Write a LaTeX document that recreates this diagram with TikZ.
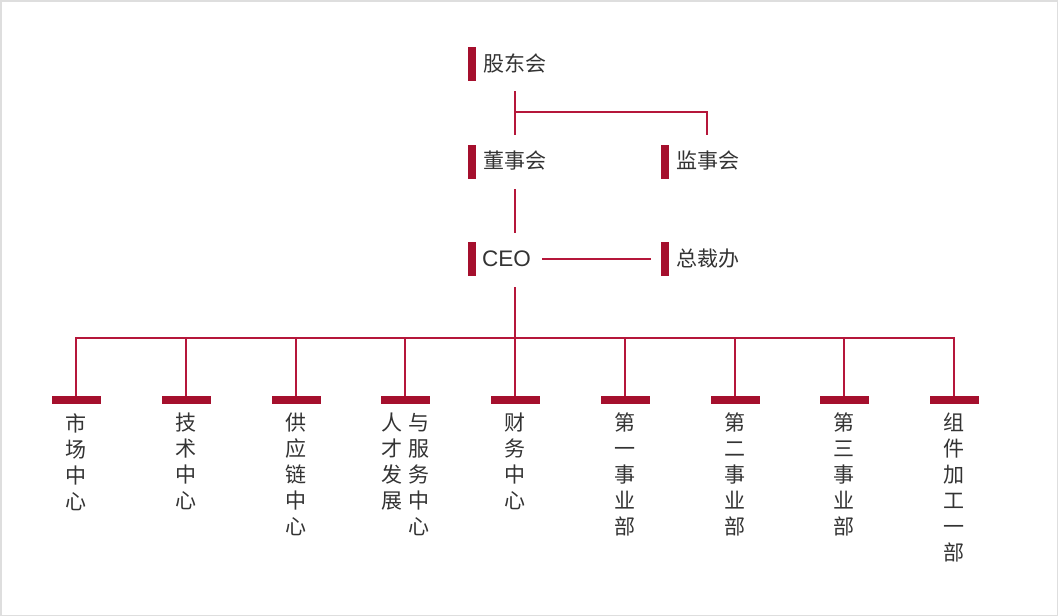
\documentclass[tikz,border=0pt]{standalone}
\usepackage{fontspec}
\setmainfont{Noto Sans CJK SC}
\newfontfamily\latinfont{Liberation Sans}
\usetikzlibrary{calc}
\definecolor{barred}{HTML}{A50F2D}
\definecolor{linered}{HTML}{B5173A}
\definecolor{txt}{HTML}{333333}
\begin{document}
\begin{tikzpicture}[x=1pt,y=-1pt,
  vbar/.style={fill=barred,draw=none,inner sep=0pt,minimum width=8pt,minimum height=34pt},
  hbar/.style={fill=barred,draw=none,inner sep=0pt,minimum width=49pt,minimum height=8pt},
  toplabel/.style={anchor=west,inner sep=0pt,text=txt,font=\fontsize{21}{21}\selectfont},
  vlabel/.style={anchor=north,inner sep=0pt,align=center,text=txt,font=\fontsize{21}{26}\selectfont},
  conn/.style={draw=linered,line width=2pt}]
\useasboundingbox (0,0) rectangle (1058,616);
\draw[draw=black!13,line width=1.5pt] (0.75,0.75) rectangle (1057.25,615.25);
% top levels
\node[vbar] (gdbar) at (472,64) {};
\node[toplabel] (gd) at (483,63) {股东会};
\node[vbar] (dsbar) at (472,161.5) {};
\node[toplabel] (ds) at (483,161) {董事会};
\node[vbar] (jsbar) at (664.5,161.5) {};
\node[toplabel] (js) at (676,161) {监事会};
\node[vbar] (ceobar) at (472,258.5) {};
\node[toplabel,font=\latinfont\fontsize{22.5}{22.5}\selectfont] (ceo) at (482,259) {CEO};
\node[vbar] (zcbar) at (664.5,258.5) {};
\node[toplabel] (zc) at (676,259) {总裁办};
% connectors top
\coordinate (gdS) at (515,91);
\coordinate (split) at (515,112);
\coordinate (dsN) at (515,135);
\coordinate (jsN) at (707,135);
\coordinate (dsS) at (515,189);
\coordinate (ceoN) at (515,233);
\coordinate (ceoS) at (515,287);
\coordinate (ceoE) at (542,259);
\draw[conn] (gdS) -- (dsN);
\draw[conn] (split) -| (jsN);
\draw[conn] (dsS) -- (ceoN);
\draw[conn] (ceoE) -- ([xshift=-9pt]zcbar.west |- ceoE);
% bottom bars
\foreach \i/\x in {1/76,2/186,3/296,4/405,5/515,6/625,7/735,8/844,9/954}{
  \node[hbar] (b\i) at (\x,400) {};
}
\draw[conn] (ceoS) -- (b5.north);
\draw[conn] (b1.north) -- ++(0,-58) -| (b9.north);
\foreach \i in {2,3,4,6,7,8}{
  \draw[conn] (b\i.north) -- ++(0,-58);
}
% labels
\node[vlabel] (l1) at (b1.center |- 0,413) {市\\场\\中\\心};
\node[vlabel] (l2) at (b2.center |- 0,413) {技\\术\\中\\心};
\node[vlabel] (l3) at (b3.center |- 0,413) {供\\应\\链\\中\\心};
\node[vlabel] (l4a) at (392,413) {人\\才\\发\\展};
\node[vlabel] (l4b) at (419,413) {与\\服\\务\\中\\心};
\node[vlabel] (l5) at (b5.center |- 0,413) {财\\务\\中\\心};
\node[vlabel] (l6) at (b6.center |- 0,413) {第\\一\\事\\业\\部};
\node[vlabel] (l7) at (b7.center |- 0,413) {第\\二\\事\\业\\部};
\node[vlabel] (l8) at (b8.center |- 0,413) {第\\三\\事\\业\\部};
\node[vlabel] (l9) at (b9.center |- 0,413) {组\\件\\加\\工\\一\\部};
\end{tikzpicture}
\end{document}
